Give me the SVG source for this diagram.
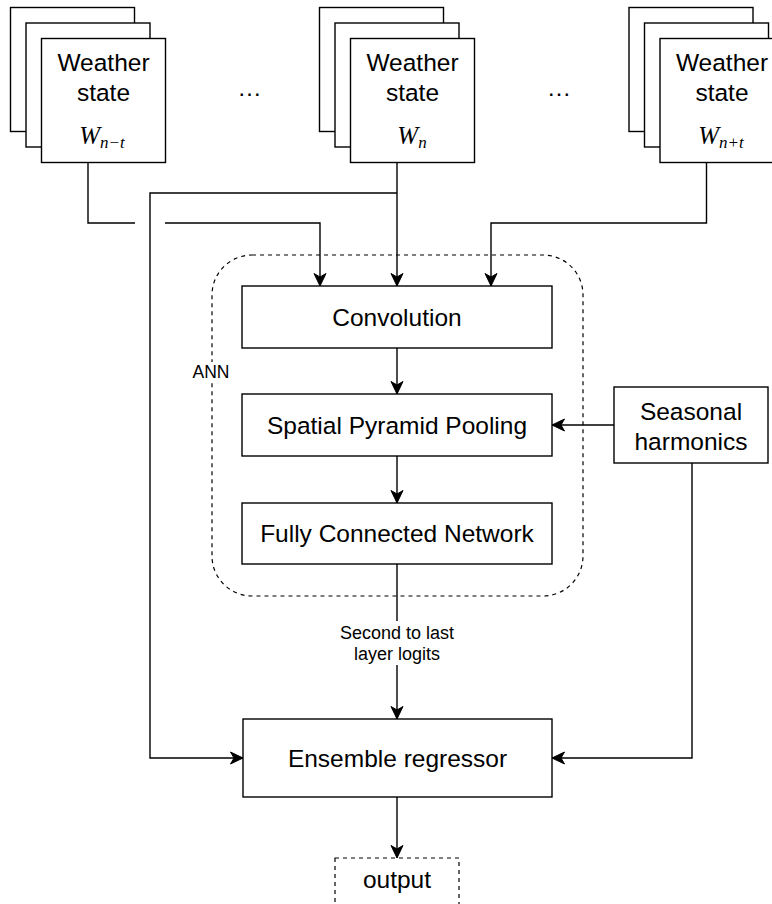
<svg xmlns="http://www.w3.org/2000/svg" width="772" height="904" viewBox="0 0 772 904">
<defs>
<style>
.box{fill:#fff;stroke:#000;stroke-width:1.4}
.dash{fill:none;stroke:#000;stroke-width:1.2;stroke-dasharray:4 4}
.ln{fill:none;stroke:#000;stroke-width:1.4}
.t{font-family:"Liberation Sans",Helvetica,Arial,sans-serif;font-size:24.5px;fill:#000;text-anchor:middle}
.s{font-family:"Liberation Sans",Helvetica,Arial,sans-serif;font-size:18px;fill:#000;text-anchor:middle}
.m{font-family:"Liberation Serif","Times New Roman",serif;font-style:italic;font-size:25px;fill:#000;text-anchor:middle}
.sub{font-size:17px}
</style>
<marker id="arr" viewBox="-14 -7 15 14" refX="0" refY="0" markerWidth="15" markerHeight="14" markerUnits="userSpaceOnUse" orient="auto">
<path d="M-12.5,-6 L0,0 L-12.5,6 L-9,0 Z" fill="#000" stroke="#000" stroke-width="1"/>
</marker>
</defs>
<rect width="772" height="904" fill="#fff"/>

<g id="ann-container">
<rect class="dash" x="212" y="255" width="371" height="341" rx="40" ry="40"/>
<rect x="196" y="362" width="32" height="20" fill="#fff"/>
<text class="s" x="211" y="377.5" style="font-size:17.5px">ANN</text>
</g>

<g id="connectors">
<polyline class="ln" points="88,162 88,223 135,223"/>
<polyline class="ln" points="165,223 320,223 320,286" marker-end="url(#arr)"/>
<polyline class="ln" points="397,162 397,286" marker-end="url(#arr)"/>
<polyline class="ln" points="397,193 150,193 150,758 243,758" marker-end="url(#arr)"/>
<polyline class="ln" points="706.5,162 706.5,223 491,223 491,286" marker-end="url(#arr)"/>
<line class="ln" x1="397" y1="348" x2="397" y2="394" marker-end="url(#arr)"/>
<line class="ln" x1="397" y1="456" x2="397" y2="503" marker-end="url(#arr)"/>
<line class="ln" x1="614" y1="425" x2="552" y2="425" marker-end="url(#arr)"/>
<polyline class="ln" points="692,463 692,758 552,758" marker-end="url(#arr)"/>
<line class="ln" x1="397" y1="564" x2="397" y2="719" marker-end="url(#arr)"/>
<rect x="335" y="621" width="124" height="44" fill="#fff"/>
<text class="s" x="397" y="638.5">Second to last</text>
<text class="s" x="397" y="659.5">layer logits</text>
<line class="ln" x1="397" y1="797" x2="397" y2="858" marker-end="url(#arr)"/>
</g>

<g id="weather-left">
<rect class="box" x="10.5" y="7.5" width="124" height="124"/>
<rect class="box" x="26" y="23" width="124" height="124"/>
<rect class="box" x="41.5" y="38.5" width="124" height="124"/>
<text class="t" x="103.5" y="70.5">Weather</text>
<text class="t" x="103.5" y="101">state</text>
<text class="m" x="102" y="144">W<tspan class="sub" dy="4">n−t</tspan></text>
</g>

<g id="ellipsis-left"><text class="t" x="249.5" y="96">…</text></g>

<g id="weather-mid">
<rect class="box" x="319.5" y="7.5" width="124" height="124"/>
<rect class="box" x="335" y="23" width="124" height="124"/>
<rect class="box" x="350.5" y="38.5" width="124" height="124"/>
<text class="t" x="412.5" y="70.5">Weather</text>
<text class="t" x="412.5" y="101">state</text>
<text class="m" x="412" y="144">W<tspan class="sub" dy="4">n</tspan></text>
</g>

<g id="ellipsis-right"><text class="t" x="559" y="96">…</text></g>

<g id="weather-right">
<rect class="box" x="629" y="7.5" width="124" height="124"/>
<rect class="box" x="644.5" y="23" width="124" height="124"/>
<rect class="box" x="660" y="38.5" width="124" height="124"/>
<text class="t" x="722" y="70.5">Weather</text>
<text class="t" x="722" y="101">state</text>
<text class="m" x="721" y="144">W<tspan class="sub" dy="4">n+t</tspan></text>
</g>

<g id="convolution">
<rect class="box" x="242" y="286" width="310" height="62"/>
<text class="t" x="397" y="325.5">Convolution</text>
</g>

<g id="spp">
<rect class="box" x="242" y="394" width="310" height="62"/>
<text class="t" x="397" y="433.5">Spatial Pyramid Pooling</text>
</g>

<g id="fcn">
<rect class="box" x="242" y="503" width="310" height="61"/>
<text class="t" x="397" y="542">Fully Connected Network</text>
</g>

<g id="seasonal">
<rect class="box" x="614" y="387" width="154" height="76"/>
<text class="t" x="691" y="420">Seasonal</text>
<text class="t" x="691" y="449.5">harmonics</text>
</g>

<g id="ensemble">
<rect class="box" x="243" y="719" width="309" height="78"/>
<text class="t" x="397.5" y="766.5">Ensemble regressor</text>
</g>

<g id="output">
<rect class="dash" x="335" y="858" width="124" height="70" fill="#fff"/>
<text class="t" x="397" y="888">output</text>
</g>
</svg>
